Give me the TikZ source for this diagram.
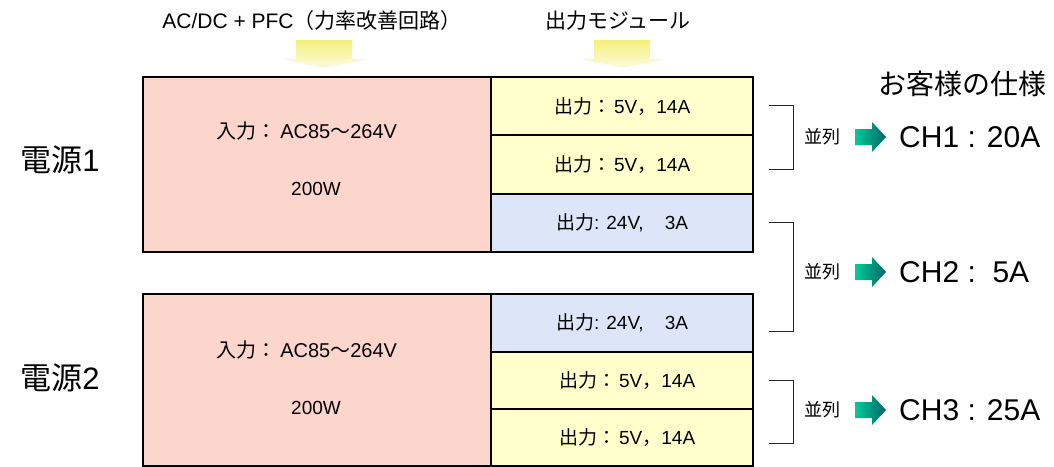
\documentclass[tikz,border=0pt]{standalone}
\usepackage{fontspec}
\setmainfont{Liberation Sans}
\newfontfamily\jp{Noto Sans CJK JP}
\definecolor{pinkfill}{HTML}{FCD5CC}
\definecolor{yelfill}{HTML}{FFFFCC}
\definecolor{bluefill}{HTML}{DCE6F8}
\definecolor{arrowyel}{HTML}{F5F07A}
\definecolor{arrowyelb}{HTML}{FCFAE0}
\definecolor{grA}{HTML}{00CC99}
\definecolor{grB}{HTML}{006666}
\tikzset{
  box/.style={draw=black, line width=2.2pt},
  txt/.style={inner sep=0pt, font=\fontsize{19}{21}\selectfont},
  brk/.style={draw=black!85, line width=1pt},
  yarrow/.style={top color=arrowyel, bottom color=arrowyelb, draw=none},
  garrow/.style={left color=grA, right color=grB, draw=none},
}
\begin{document}
\begin{tikzpicture}[x=1pt,y=-1pt]
\useasboundingbox (0,0) rectangle (1054,466);
% top labels
\node[inner sep=0pt, font=\fontsize{21}{23}\selectfont] (lab1) at (312,21) {AC/DC + PFC{\jp （力率改善回路）}};
\node[inner sep=0pt, font=\fontsize{21}{23}\selectfont\jp] (lab2) at (618,21) {出力モジュール};
% yellow arrows
\path[yarrow] (296,40) -- (352,40) -- (352,59) -- (367,59) -- (324,68) -- (283,59) -- (296,59) -- cycle;
\path[yarrow] (594,40) -- (650,40) -- (650,59) -- (665,59) -- (622,68) -- (581,59) -- (594,59) -- cycle;
% block 1
\node[box, fill=pinkfill, minimum width=348pt, minimum height=175pt, anchor=north west, inner sep=0pt] (in1) at (142,76) {};
\node[box, fill=yelfill, minimum width=262pt, minimum height=58pt, anchor=north west] (o11) at (490,76) {};
\node[box, fill=yelfill, minimum width=262pt, minimum height=59pt, anchor=north west] (o12) at (490,134) {};
\node[box, fill=bluefill, minimum width=262pt, minimum height=58pt, anchor=north west] (o13) at (490,193) {};
% block 2
\node[box, fill=pinkfill, minimum width=348pt, minimum height=172pt, anchor=north west, inner sep=0pt] (in2) at (142,293) {};
\node[box, fill=bluefill, minimum width=262pt, minimum height=58pt, anchor=north west] (o21) at (490,293) {};
\node[box, fill=yelfill, minimum width=262pt, minimum height=57pt, anchor=north west] (o22) at (490,351) {};
\node[box, fill=yelfill, minimum width=262pt, minimum height=57pt, anchor=north west] (o23) at (490,408) {};
% texts
\node[txt, font=\fontsize{20}{22}\selectfont] (t1a) at (307,131) {{\jp 入力：}\,AC85{\jp 〜}264V};
\node[txt] (t1b) at (316,189) {200W};
\node[txt, font=\fontsize{20}{22}\selectfont] (t2a) at (307,350) {{\jp 入力：}\,AC85{\jp 〜}264V};
\node[txt] (t2b) at (316,408) {200W};
\node[txt] at (o11.center) {{\jp 出力：}\,5V{\jp ，}14A};
\node[txt] at (o12.center) {{\jp 出力：}\,5V{\jp ，}14A};
\node[txt] at (o13.center) {{\jp 出力}: 24V,\ \ \ \ 3A};
\node[txt] at (o21.center) {{\jp 出力}: 24V,\ \ \ \ 3A};
\node[txt] at ([xshift=5pt]o22.center) {{\jp 出力：}\,5V{\jp ，}14A};
\node[txt] at ([xshift=5pt]o23.center) {{\jp 出力：}\,5V{\jp ，}14A};
% side labels
\node[inner sep=0pt, font=\fontsize{31}{33}\selectfont] (ps1) at (60,160) {{\jp 電源}1};
\node[inner sep=0pt, font=\fontsize{31}{33}\selectfont] (ps2) at (60,378) {{\jp 電源}2};
% brackets
\coordinate (b1a) at (769,105); \coordinate (b1b) at (769,169);
\coordinate (b2a) at (769,222); \coordinate (b2b) at (769,331);
\coordinate (b3a) at (769,380); \coordinate (b3b) at (769,443);
\draw[brk] (b1a) -- ++(24,0) |- (b1b);
\draw[brk] (b2a) -- ++(24,0) |- (b2b);
\draw[brk] (b3a) -- ++(24,0) |- (b3b);
% customer spec
\node[inner sep=0pt, font=\fontsize{28}{30}\selectfont\jp] (spec) at (962,84) {お客様の仕様};
\foreach \y/\t [count=\i] in {137/{CH1 : 20A}, 272/{CH2 :\ \ 5A}, 410/{CH3 : 25A}}{
  \node[inner sep=0pt, font=\fontsize{18}{20}\selectfont\jp] (par\i) at (822,\y) {並列};
  \path[garrow] (855,\y-8) -- (872,\y-8) -- (872,\y-15) -- (886,\y) -- (872,\y+15) -- (872,\y+8) -- (855,\y+8) -- cycle;
  \node[inner sep=0pt, anchor=west, font=\fontsize{30}{32}\selectfont] (ch\i) at (899,\y) {\t};
}
\end{tikzpicture}
\end{document}
